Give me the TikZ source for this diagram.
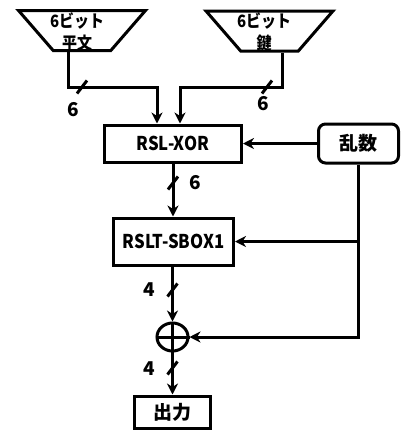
\documentclass[tikz,border=0pt]{standalone}
\usepackage{fontspec}
\setmainfont{Noto Sans CJK JP}
\newfontfamily\narrowfont{Noto Sans CJK JP}[FakeStretch=0.88]
\usetikzlibrary{shapes.geometric, arrows.meta}

\tikzset{
	wire/.style={line width=3pt},
	arrowwire/.style={wire, -{Stealth[length=11pt, width=11pt, inset=3.5pt]}},
	busmark/.style={line width=3pt},
	block/.style={shape=rectangle, draw, line width=3pt, inner sep=0pt},
	source/.style={trapezium, draw, line width=3pt, shape border rotate=180, trapezium angle=59, trapezium stretches=true, minimum width=127, minimum height=40},
	txt/.style={font=\bfseries\fontsize{19}{21}\selectfont, inner sep=0pt, align=center},
	narrowtxt/.style={txt, font=\narrowfont\bfseries\fontsize{19}{21}\selectfont},
	sourcetxt/.style={txt, font=\narrowfont\bfseries\fontsize{17}{22}\selectfont},
}

\begin{document}
\begin{tikzpicture}[x=1pt, y=-1pt]
	\useasboundingbox (0,0) rectangle (401,432);
	% Paths, nodes and wires:
	\node[source] (srcL) at (82, 30.5){} node[sourcetxt] (srcLtxt) at (77, 32){6ビット\\平文};
	\node[source] (srcR) at (269.5, 31){} node[sourcetxt] (srcRtxt) at (264, 32){6ビット\\鍵};
	\node[block, minimum width=137, minimum height=37] (xorbox) at (173, 143.5){} node[narrowtxt] (xorboxtxt) at (173, 143.5){RSL-XOR};
	\node[block, minimum width=80, minimum height=39, rounded corners=7] (rand) at (358.5, 143.5){} node[txt] (randtxt) at (358.5, 143.5){乱数};
	\node[block, minimum width=120, minimum height=47] (sbox) at (173.5, 241.5){} node[narrowtxt] (sboxtxt) at (173.5, 241.5){RSLT-SBOX1};
	\node[shape=ellipse, draw, line width=3pt, minimum width=31, minimum height=28, inner sep=0pt] (xorop) at (172.5, 337){};
	\node[block, minimum width=76, minimum height=32] (out) at (172.5, 412){} node[txt] (outtxt) at (172.5, 412){出力};

	\draw[wire] (xorop.north) -- (xorop.south) (xorop.west) -- (xorop.east);

	\coordinate (bendL) at (157, 87);
	\coordinate (bendR) at (180, 87);
	\draw[arrowwire] ([xshift=-13.5pt]srcL.south) |- (bendL) -- (bendL |- xorbox.north);
	\draw[arrowwire] ([xshift=12.5pt]srcR.south) |- (bendR) -- (bendR |- xorbox.north);
	\draw[arrowwire] (rand.west) -- (rand.west -| xorbox.east);
	\draw[arrowwire] (xorbox.south) -- (xorbox.south |- sbox.north);
	\draw[arrowwire] (rand.south) |- (xorop.east);
	\draw[arrowwire] (rand.south |- sbox.east) -- (sbox.east);
	\draw[arrowwire] (sbox.south -| xorop.north) -- (xorop.north);
	\draw[arrowwire] (xorop.south) -- (out.north);

	% bus width marks
	\coordinate (busL) at (82, 87);
	\coordinate (busR) at (267, 87);
	\coordinate (bus1) at (173, 183);
	\coordinate (bus2) at (172.5, 290);
	\coordinate (bus3) at (172.5, 368);
	\foreach \b in {busL, busR, bus1, bus2, bus3}
		\draw[busmark] (\b) ++(-5, 6.5) -- ++(10, -13);
	\node[txt] (busLtxt) at (73, 110){6};
	\node[txt] (busRtxt) at (263, 104){6};
	\node[txt] (bus1txt) at (195, 183){6};
	\node[txt] (bus2txt) at (149.5, 290){4};
	\node[txt] (bus3txt) at (149.5, 369){4};
\end{tikzpicture}
\end{document}
